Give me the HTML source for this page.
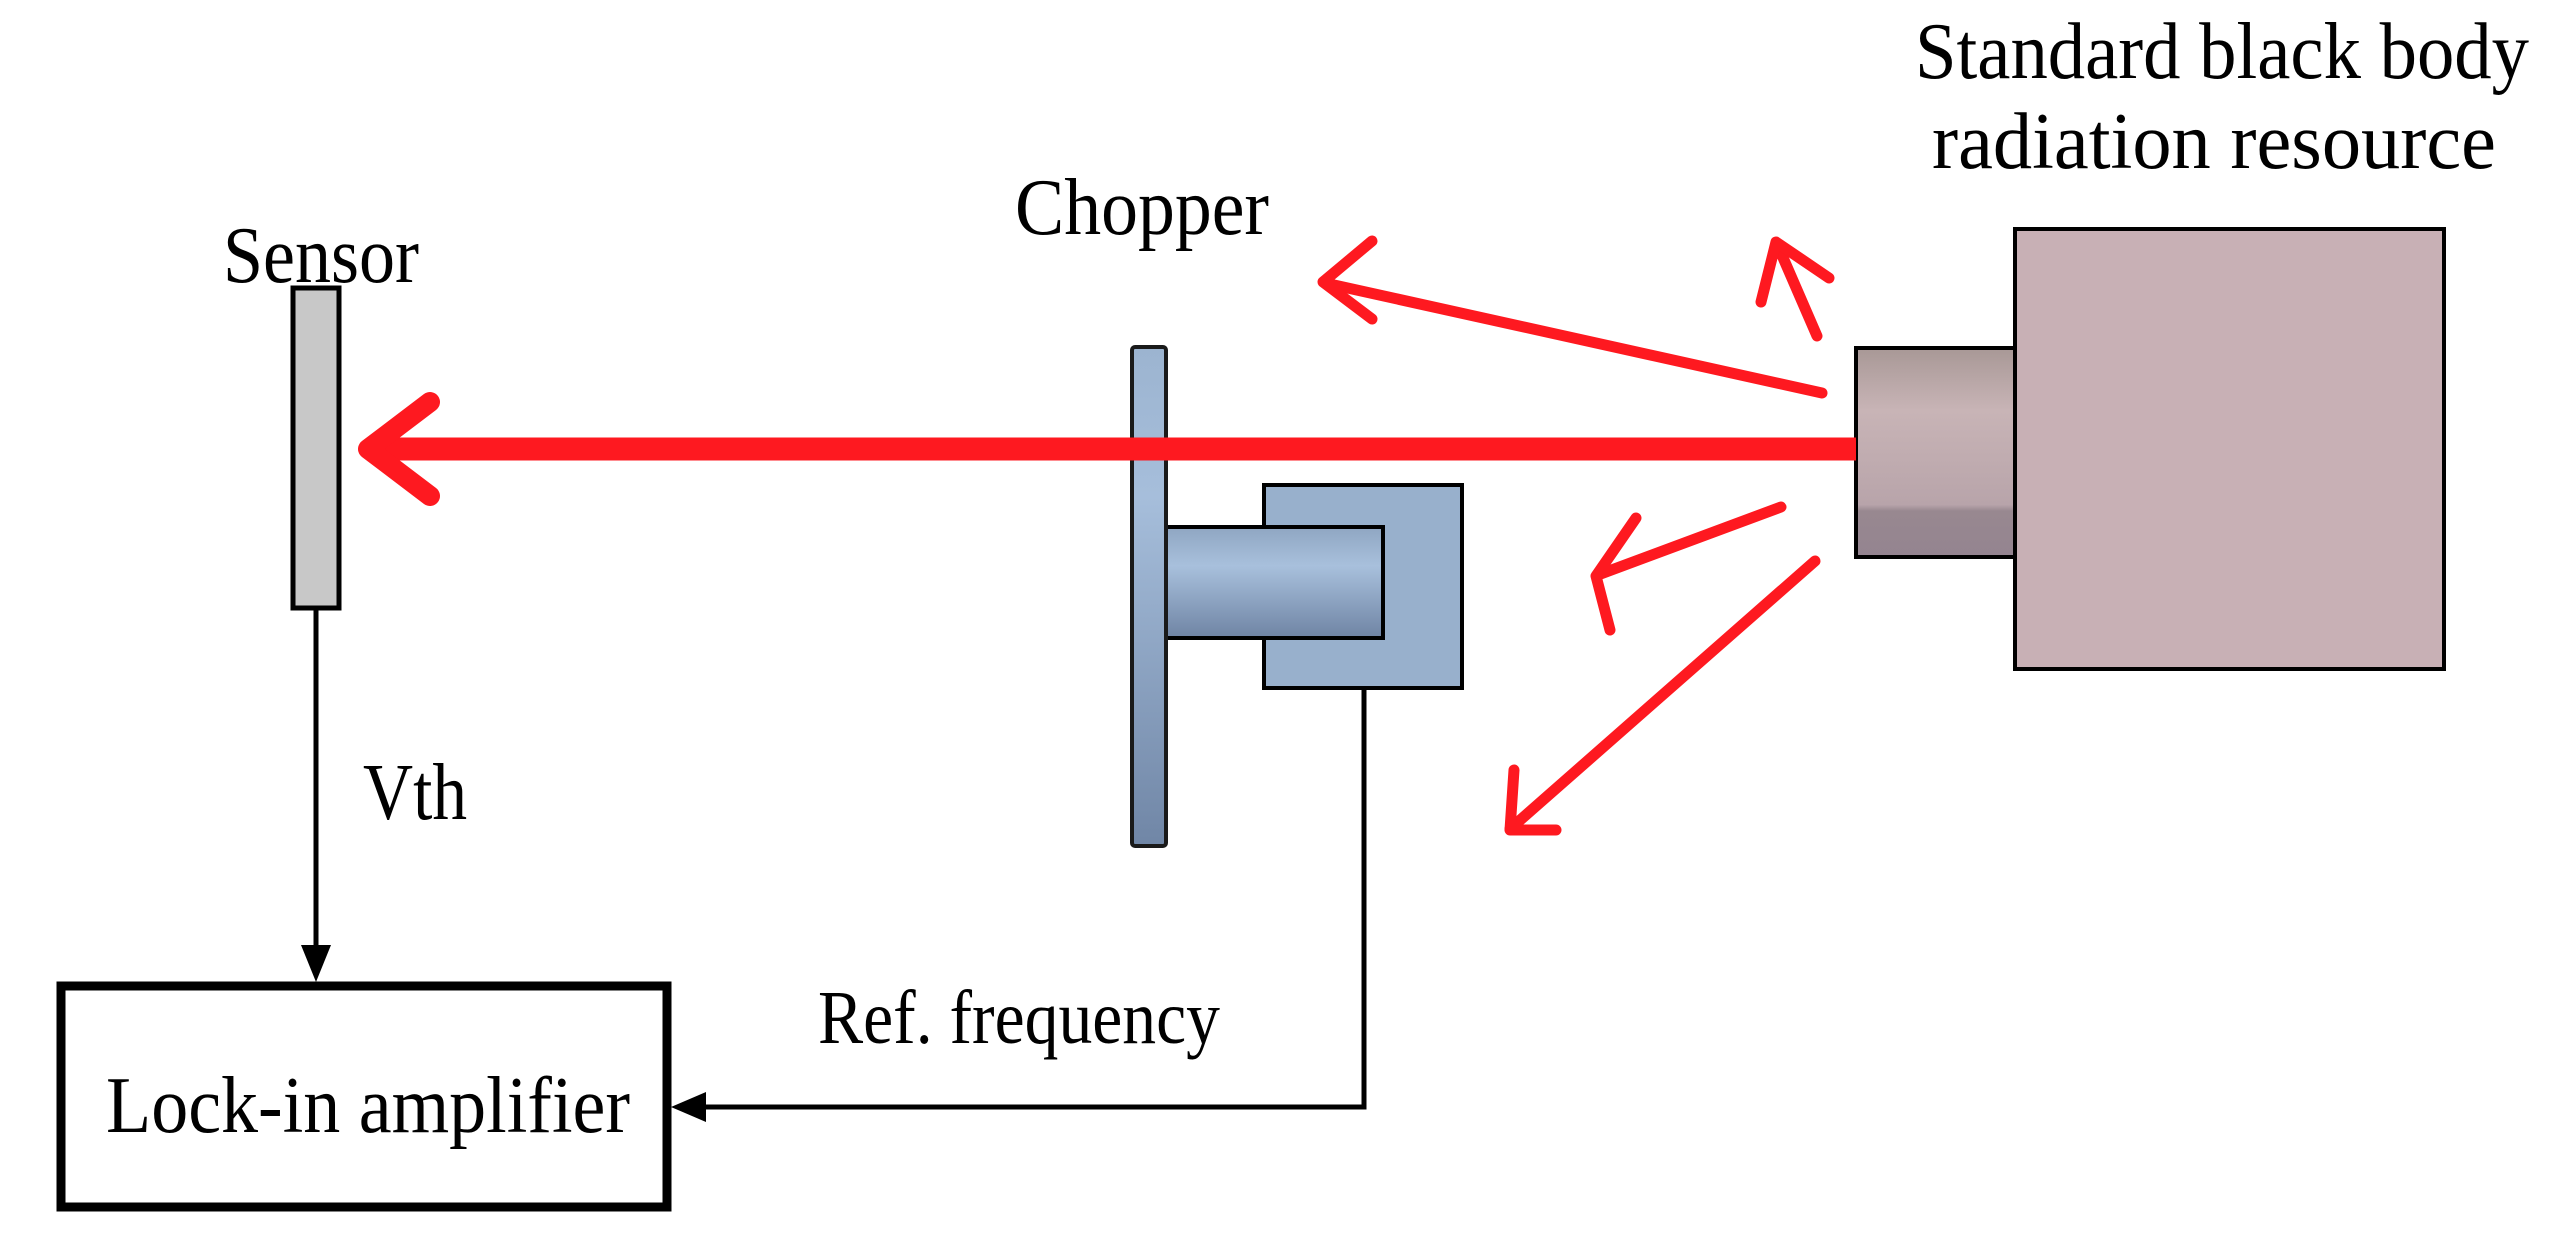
<!DOCTYPE html>
<html><head><style>
html,body{margin:0;padding:0;background:#fff;}
svg{display:block;}
text{font-family:"Liberation Serif",serif;fill:#000;}
</style></head><body>
<svg width="2567" height="1256" viewBox="0 0 2567 1256" xmlns="http://www.w3.org/2000/svg">
<defs>
<linearGradient id="disk" x1="0" y1="0" x2="0" y2="1">
<stop offset="0" stop-color="#9cb4d0"/><stop offset="0.3" stop-color="#a6bedb"/><stop offset="1" stop-color="#7086a6"/>
</linearGradient>
<linearGradient id="cyl" x1="0" y1="0" x2="0" y2="1">
<stop offset="0" stop-color="#8fa6c2"/><stop offset="0.35" stop-color="#a8c0dc"/><stop offset="1" stop-color="#6f84a4"/>
</linearGradient>
<linearGradient id="bb" x1="0" y1="0" x2="0" y2="1">
<stop offset="0" stop-color="#a89896"/><stop offset="0.3" stop-color="#c8b4b6"/><stop offset="0.75" stop-color="#b8a4aa"/><stop offset="0.78" stop-color="#988890"/><stop offset="1" stop-color="#948490"/>
</linearGradient>
</defs>

<!-- labels -->
<text x="223" y="282" font-size="80" textLength="196" lengthAdjust="spacingAndGlyphs">Sensor</text>
<text x="1015" y="234" font-size="80" textLength="254" lengthAdjust="spacingAndGlyphs">Chopper</text>
<text x="1915" y="78" font-size="80" textLength="614" lengthAdjust="spacingAndGlyphs">Standard black body</text>
<text x="1932" y="168" font-size="80" textLength="564" lengthAdjust="spacingAndGlyphs">radiation resource</text>
<text x="363" y="819" font-size="80" textLength="104" lengthAdjust="spacingAndGlyphs">Vth</text>
<text x="818" y="1043" font-size="76" textLength="402" lengthAdjust="spacingAndGlyphs">Ref. frequency</text>
<text x="106" y="1132" font-size="80" textLength="524" lengthAdjust="spacingAndGlyphs">Lock-in amplifier</text>

<!-- black body -->
<rect x="2015" y="229" width="429" height="440" fill="#c8b0b5" stroke="#000" stroke-width="4"/>
<rect x="1856" y="348" width="159" height="209" fill="url(#bb)" stroke="#000" stroke-width="4"/>

<!-- chopper -->
<rect x="1264" y="485" width="198" height="203" fill="#98b0cc" stroke="#000" stroke-width="4"/>
<rect x="1166" y="527" width="217" height="111" fill="url(#cyl)" stroke="#000" stroke-width="4"/>
<rect x="1132" y="347" width="34" height="499" rx="3" fill="url(#disk)" stroke="#1a1a1a" stroke-width="4"/>

<!-- main beam -->
<line x1="1856" y1="449" x2="372" y2="449" stroke="#fe1920" stroke-width="23"/>
<polyline points="430,402 368,449 430,496" fill="none" stroke="#fe1920" stroke-width="20" stroke-linecap="round" stroke-linejoin="round"/>

<!-- sensor -->
<rect x="293" y="288" width="46" height="320" fill="#c8c8c8" stroke="#000" stroke-width="5"/>

<!-- scattered arrows -->
<g fill="none" stroke="#fe1920" stroke-width="11" stroke-linecap="round" stroke-linejoin="round">
<line x1="1822" y1="393" x2="1325" y2="283"/>
<polyline points="1372,241 1323,282 1372,319"/>
<line x1="1817" y1="336" x2="1778" y2="246"/>
<polyline points="1761,302 1776,242 1829,278"/>
<line x1="1781" y1="507" x2="1598" y2="575"/>
<polyline points="1610,630 1596,576 1636,518"/>
<line x1="1815" y1="561" x2="1510" y2="829"/>
<polyline points="1556,830 1510,830 1514,770"/>
</g>

<!-- signal lines -->
<line x1="316" y1="608" x2="316" y2="950" stroke="#000" stroke-width="5"/>
<polygon points="301,945 331,945 316,982" fill="#000"/>
<polyline points="1364,688 1364,1107 700,1107" fill="none" stroke="#000" stroke-width="5"/>
<polygon points="706,1092 706,1122 671,1107" fill="#000"/>

<!-- lock-in box -->
<rect x="61" y="986" width="606" height="221" fill="none" stroke="#000" stroke-width="9"/>
</svg>
</body></html>
